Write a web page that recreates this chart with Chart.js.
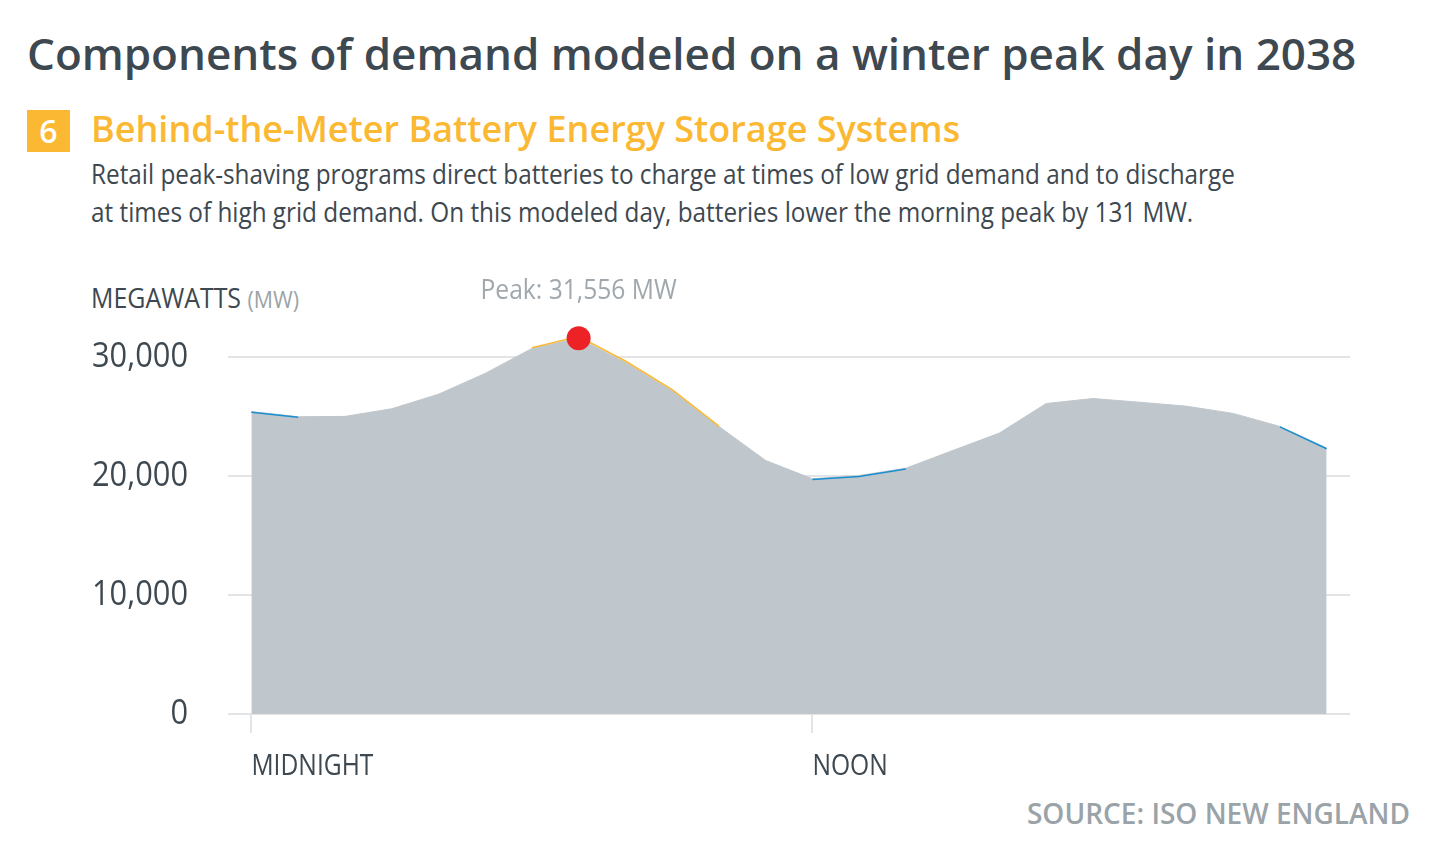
<!DOCTYPE html>
<html>
<head>
<meta charset="utf-8">
<script src="https://cdn.jsdelivr.net/npm/chart.js@4.4.1/dist/chart.umd.min.js"></script>
<style>
  body { margin: 0; background: #fff; font-family: 'Open Sans', sans-serif; color: #3d4850; }
  #page { position: relative; width: 1438px; height: 863px; overflow: hidden; }
  .abs { position: absolute; white-space: nowrap; }
  .narrow { transform-origin: 0 0; }
  #title { left: 27px; top: 32px; font-size: 44px; line-height: 42px; font-weight: 600; }
  #badge { left: 27px; top: 110px; width: 43px; height: 42px; background: #fbb832; color: #fff;
           font-size: 32px; line-height: 42px; font-weight: 600; text-align: center; }
  #subtitle { left: 91px; top: 112px; font-size: 36px; line-height: 34px; font-weight: 600; color: #fbb832; }
  #body { left: 91px; top: 155px; font-size: 27px; line-height: 37.5px; transform: scaleX(0.9); }
  #units { left: 91px; top: 282px; font-size: 28px; line-height: 30px; transform: scaleX(0.89); }
  #units span { color: #9aa3a8; font-size: 24px; }
  #source { right: 28px; top: 798px; font-size: 28px; line-height: 30px; font-weight: 600; color: #9aa3a8; }
  #wrap { position: absolute; left: 0; top: 260px; width: 1438px; height: 540px; }
</style>
</head>
<body>
<div id="page">
  <div id="title" class="abs">Components of demand modeled on a winter peak day in 2038</div>
  <div id="badge" class="abs">6</div>
  <div id="subtitle" class="abs">Behind-the-Meter Battery Energy Storage Systems</div>
  <div id="body" class="abs narrow">Retail peak-shaving programs direct batteries to charge at times of low grid demand and to discharge<br>at times of high grid demand. On this modeled day, batteries lower the morning peak by 131 MW.</div>
  <div id="units" class="abs narrow">MEGAWATTS <span>(MW)</span></div>
  <div id="source" class="abs">SOURCE: ISO NEW ENGLAND</div>
  <div id="wrap"><canvas id="chart"></canvas></div>
</div>
<script>
// hour of day, 0 = midnight
var hours = [0, 1, 2, 3, 4, 5, 6, 7, 8, 9, 10, 11, 12, 13, 14, 15, 16, 17, 18, 19, 20, 21, 22, 23];
// modeled demand, MW
var demand = [25400, 24960, 24990, 25630, 26850, 28600, 30690, 31556, 29520, 27150, 24150, 21290,
              19750, 20030, 20640, 22120, 23590, 26070, 26490, 26180, 25850, 25240, 24150, 22340];
// battery effect, MW (positive = discharging, negative = charging)
var battery = [-60, -40, 0, 0, 0, 0, 60, 131, 120, 90, 30, 0,
               -50, -80, -60, 0, 0, 0, 0, 0, 0, 0, -40, -70];
var xTicks = [0, 12];
var xTickLabels = ['MIDNIGHT', 'NOON'];
var yTicks = [0, 10000, 20000, 30000];
var peakIndex = 7;

var ink = '#3d4850';
var grid = '#e2e4e6';

var areaPoints = hours.map(function (h, i) { return { x: h, y: demand[i] }; });
var batteryPoints = hours.map(function (h, i) { return { x: h, y: demand[i] + battery[i] }; });

// colour a segment only where the batteries act at both ends
function segColor(ctx) {
    var a = battery[ctx.p0DataIndex], b = battery[ctx.p1DataIndex];
    if (a > 0 && b > 0) return '#fbb832';
    if (a < 0 && b < 0) return '#1a8fd0';
    return 'rgba(0,0,0,0)';
}

// the reference uses a semi-condensed face; squeeze tick labels horizontally around their anchors
function squeeze(k) {
    return function (scale) {
        if (scale._squeezed) return;
        scale._squeezed = true;
        var getItems = scale.getLabelItems, draw = scale.drawLabels;
        scale.getLabelItems = function (area) {
            return getItems.call(this, area).map(function (it) {
                var t = it.options.translation;
                var o = Object.assign({}, it.options, { translation: [t[0] / k, t[1]] });
                return Object.assign({}, it, { options: o });
            });
        };
        scale.drawLabels = function (area) {
            this.ctx.save();
            this.ctx.scale(k, 1);
            draw.call(this, area);
            this.ctx.restore();
        };
    };
}

var peakLabel = {
    id: 'peakLabel',
    afterDraw: function (chart) {
        var c = chart.ctx;
        var px = chart.scales.x.getPixelForValue(hours[peakIndex]);
        var py = chart.scales.y.getPixelForValue(demand[peakIndex]);
        var k = 0.88;
        c.save();
        c.scale(k, 1);
        c.font = '400 28px "Open Sans"';
        c.fillStyle = '#a0a8ad';
        c.textAlign = 'center';
        c.textBaseline = 'middle';
        c.fillText('Peak: ' + demand[peakIndex].toLocaleString('en-US') + ' MW', px / k, py - 47);
        c.restore();
    }
};

new Chart(document.getElementById('chart').getContext('2d'), {
    type: 'line',
    data: {
        datasets: [{
            type: 'scatter',
            data: [{ x: hours[peakIndex], y: demand[peakIndex] }],
            backgroundColor: '#ec2227',
            borderWidth: 0,
            pointRadius: 12,
            pointHoverRadius: 12,
            order: 0
        }, {
            data: batteryPoints,
            borderWidth: 1.5,
            fill: false,
            pointRadius: 0,
            tension: 0,
            segment: { borderColor: segColor },
            order: 1
        }, {
            data: areaPoints,
            backgroundColor: '#bfc7cc',
            borderColor: '#bfc7cc',
            borderWidth: 1,
            fill: 'origin',
            pointRadius: 0,
            tension: 0,
            order: 2
        }]
    },
    options: {
        responsive: true,
        maintainAspectRatio: false,
        animation: false,
        layout: { padding: { top: 59, right: 88, bottom: 17, left: 0 } },
        plugins: { legend: { display: false }, tooltip: { enabled: false } },
        scales: {
            x: {
                type: 'linear',
                min: -0.5,
                max: 23.5,
                afterBuildTicks: function (s) { s.ticks = xTicks.map(function (v) { return { value: v }; }); },
                afterFit: function (s) { s.height = 69; },
                afterUpdate: squeeze(0.85),
                border: { display: false },
                grid: { drawOnChartArea: false, drawTicks: true, tickLength: 19, color: grid, lineWidth: 2 },
                ticks: {
                    align: 'start',
                    padding: 16,
                    color: ink,
                    maxRotation: 0,
                    font: { family: '"Open Sans"', size: 29, lineHeight: 1.2 },
                    callback: function (v) { return xTickLabels[xTicks.indexOf(v)]; }
                }
            },
            y: {
                min: 0,
                max: 33000,
                afterBuildTicks: function (s) { s.ticks = yTicks.map(function (v) { return { value: v }; }); },
                afterFit: function (s) { s.width = 228; },
                afterUpdate: squeeze(0.88),
                border: { display: false },
                grid: { color: grid, lineWidth: 2, drawTicks: false },
                ticks: {
                    padding: 40,
                    color: ink,
                    font: { family: '"Open Sans"', size: 35 },
                    callback: function (v) { return v.toLocaleString('en-US'); }
                }
            }
        }
    },
    plugins: [peakLabel]
});
</script>
</body>
</html>
